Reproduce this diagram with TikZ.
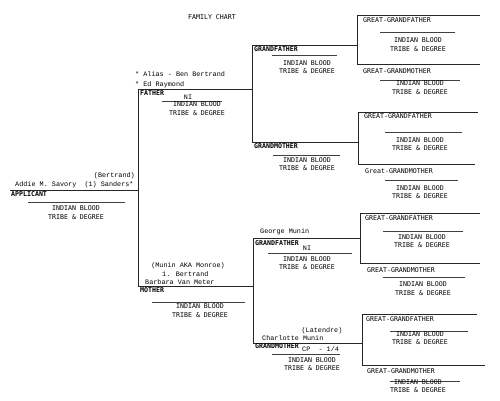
\documentclass[tikz,border=0pt]{standalone}
\usepackage{fontspec}
\newfontfamily\nmfamily{Liberation Mono}
\newfontfamily\lbfamily{DejaVu Sans Mono}
\newcommand\nmf{\nmfamily\fontsize{6.8}{8}\selectfont}
\newcommand\lbf{\lbfamily\fontsize{6.6}{8.6}\selectfont}
\tikzset{
  ln/.style={line width=0.9pt, draw=black!85},
  ul/.style={line width=0.7pt, draw=black!75},
  nm/.style={font=\nmf, inner sep=0pt, anchor=west, text=black},
  lb/.style={font=\lbf, inner sep=0pt, anchor=west, text=black},
  ib/.style={font=\lbf, inner sep=0pt, align=center, text=black},
}
\begin{document}
\begin{tikzpicture}[x=1pt,y=-1pt]
\useasboundingbox[fill=white] (0,0) rectangle (500,401);

% ---- structure coordinates
\coordinate (appL) at (10,190);  \coordinate (appR) at (138,190);
\coordinate (fa) at (138,89);    \coordinate (mo) at (138,286);
\coordinate (faR) at (252,89);   \coordinate (moR) at (253,286);
\coordinate (gf1) at (252,45);   \coordinate (gf1R) at (357,45);
\coordinate (gm1) at (252,142);  \coordinate (gm1R) at (358,142);
\coordinate (gf2) at (253,238);  \coordinate (gf2R) at (360,238);
\coordinate (gm2) at (253,343);  \coordinate (gm2R) at (362,343);
\coordinate (g1a) at (357,15);   \coordinate (g1aR) at (480,15);
\coordinate (g1b) at (357,64);   \coordinate (g1bR) at (480,64);
\coordinate (g2a) at (358,112);  \coordinate (g2aR) at (478,112);
\coordinate (g2b) at (358,164);  \coordinate (g2bR) at (475,164);
\coordinate (g3a) at (360,213);  \coordinate (g3aR) at (480,213);
\coordinate (g3b) at (360,263);  \coordinate (g3bR) at (480,263);
\coordinate (g4a) at (362,314);  \coordinate (g4aR) at (477,314);
\coordinate (g4b) at (362,365);  \coordinate (g4bR) at (485,365);

% ---- chart lines
\draw[ln] (appL) -- (appR);
\draw[ln] (fa) -- (mo);
\draw[ln] (fa) -- (faR);
\draw[ln] (mo) -- (moR);
\draw[ln] (gf1) -- (gm1);
\draw[ln] (gf1) -- (gf1R);
\draw[ln] (gm1) -- (gm1R);
\draw[ln] (gf2) -- (gm2);
\draw[ln] (gf2) -- (gf2R);
\draw[ln] (gm2) -- (gm2R);
\draw[ln] (g1a) -- (g1b); \draw[ln] (g1a) -- (g1aR); \draw[ln] (g1b) -- (g1bR);
\draw[ln] (g2a) -- (g2b); \draw[ln] (g2a) -- (g2aR); \draw[ln] (g2b) -- (g2bR);
\draw[ln] (g3a) -- (g3b); \draw[ln] (g3a) -- (g3aR); \draw[ln] (g3b) -- (g3bR);
\draw[ln] (g4a) -- (g4b); \draw[ln] (g4a) -- (g4aR); \draw[ln] (g4b) -- (g4bR);

% ---- title
\node[lb, anchor=center] (title) at (212,17) {FAMILY CHART};

% ---- applicant
\node[nm, anchor=east] (appbert) at (135,176) {(Bertrand)};
\node[nm] (addie) at (15,184.5) {Addie M. Savory\ \ (1) Sanders*};
\node[lb, font=\lbf\bfseries] (applbl) at (11,194) {APPLICANT};
\draw[ul] (28,202) -- (125,202);
\node[ib] (appib) at (76,212.5) {INDIAN BLOOD\\TRIBE \& DEGREE};

% ---- father
\node[nm] (alias) at (135,74) {* Alias - Ben Bertrand};
\node[nm] (edr) at (135,85) {* Ed Raymond};
\node[lb, font=\lbf\bfseries] (falbl) at (140,93) {FATHER};
\node[nm, anchor=center] (fani) at (188,97) {NI};
\draw[ul] (162,101) -- (222,101);
\node[ib] (faib) at (197,108.5) {INDIAN BLOOD\\TRIBE \& DEGREE};

% ---- paternal grandparents
\node[lb, font=\lbf\bfseries] (gf1lbl) at (254,49) {GRANDFATHER};
\draw[ul] (272,55) -- (337,55);
\node[ib] (gf1ib) at (307,67) {INDIAN BLOOD\\TRIBE \& DEGREE};
\node[lb, font=\lbf\bfseries] (gm1lbl) at (254,146) {GRANDMOTHER};
\draw[ul] (273,155) -- (340,155);
\node[ib] (gm1ib) at (307,164) {INDIAN BLOOD\\TRIBE \& DEGREE};

% ---- mother
\node[nm, anchor=center] (munin) at (188,266) {(Munin AKA Monroe)};
\node[nm] (bert1) at (162,274) {1. Bertrand};
\node[nm] (barb) at (145,282) {Barbara Van Meter};
\node[lb, font=\lbf\bfseries] (molbl) at (140,290.5) {MOTHER};
\draw[ul] (152,302) -- (245,302);
\node[ib] (moib) at (200,310.5) {INDIAN BLOOD\\TRIBE \& DEGREE};

% ---- maternal grandparents
\node[nm] (george) at (260,232) {George Munin};
\node[lb, font=\lbf\bfseries] (gf2lbl) at (255,243) {GRANDFATHER};
\node[nm, anchor=center] (gf2ni) at (307,248.5) {NI};
\draw[ul] (268,253) -- (352,253);
\node[ib] (gf2ib) at (307,263) {INDIAN BLOOD\\TRIBE \& DEGREE};
\node[nm, anchor=center] (latendre) at (322,331) {(Latendre)};
\node[nm] (charl) at (262,338) {Charlotte Munin};
\node[lb, font=\lbf\bfseries] (gm2lbl) at (255,346.5) {GRANDMOTHER};
\node[nm] (cp) at (302,349) {CP\ \ - 1/4};
\draw[ul] (272,354) -- (340,354);
\node[ib] (gm2ib) at (312,364) {INDIAN BLOOD\\TRIBE \& DEGREE};

% ---- great-grandparents
\node[lb] (gg1lbl) at (363,20) {GREAT-GRANDFATHER};
\draw[ul] (380,32) -- (455,32);
\node[ib] (gg1ib) at (418,44.5) {INDIAN BLOOD\\TRIBE \& DEGREE};
\node[lb] (gg2lbl) at (363,71) {GREAT-GRANDMOTHER};
\draw[ul] (380,80) -- (460,80);
\node[ib] (gg2ib) at (420,87.5) {INDIAN BLOOD\\TRIBE \& DEGREE};

\node[lb] (gg3lbl) at (364,116) {GREAT-GRANDFATHER};
\draw[ul] (385,132) -- (462,132);
\node[ib] (gg3ib) at (420,144) {INDIAN BLOOD\\TRIBE \& DEGREE};
\node[lb] (gg4lbl) at (365,171) {Great-GRANDMOTHER};
\draw[ul] (385,180) -- (458,180);
\node[ib] (gg4ib) at (420,192) {INDIAN BLOOD\\TRIBE \& DEGREE};

\node[lb] (gg5lbl) at (365,218) {GREAT-GRANDFATHER};
\draw[ul] (383,231) -- (463,231);
\node[ib] (gg5ib) at (422,241) {INDIAN BLOOD\\TRIBE \& DEGREE};
\node[lb] (gg6lbl) at (367,270) {GREAT-GRANDMOTHER};
\draw[ul] (383,277) -- (465,277);
\node[ib] (gg6ib) at (423,288.5) {INDIAN BLOOD\\TRIBE \& DEGREE};

\node[lb] (gg7lbl) at (366,319) {GREAT-GRANDFATHER};
\draw[ul] (390,331) -- (468,331);
\node[ib] (gg7ib) at (420,338) {INDIAN BLOOD\\TRIBE \& DEGREE};
\node[lb] (gg8lbl) at (367,371) {GREAT-GRANDMOTHER};
\draw[ul] (390,381) -- (460,381);
\node[ib] (gg8ib) at (418,386) {INDIAN BLOOD\\TRIBE \& DEGREE};
\end{tikzpicture}
\end{document}
